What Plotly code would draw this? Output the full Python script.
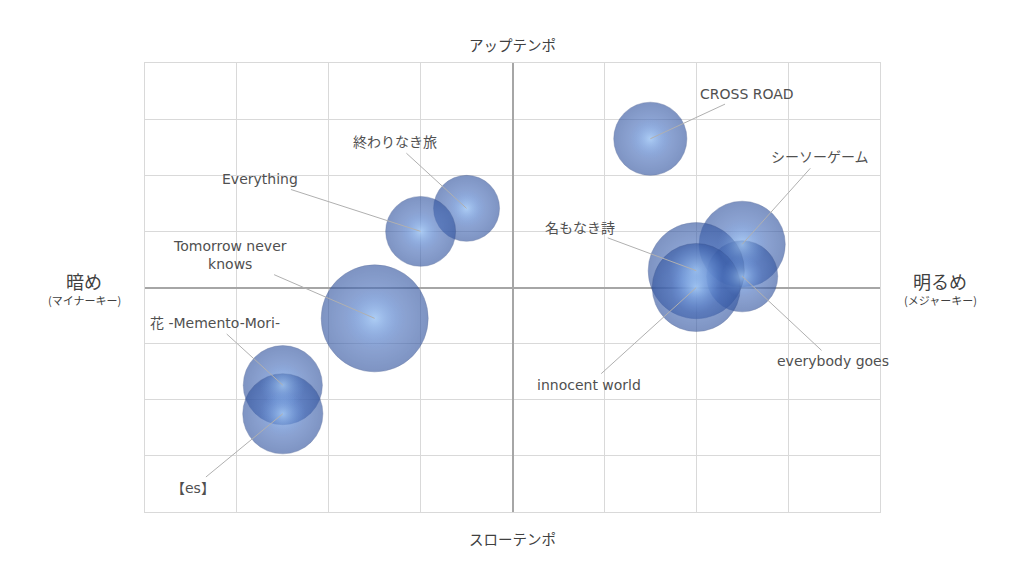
import plotly.graph_objects as go

# song data: x = key (minor -> major), y = tempo (slow -> up), size = bubble value
songs = ["CROSS ROAD", "シーソーゲーム", "everybody goes", "名もなき詩", "innocent world",
         "終わりなき旅", "Everything", "Tomorrow never<br>knows", "花 -Memento-Mori-", "【es】"]
key_x = [1.5, 2.5, 2.5, 2.0, 2.0, -0.5, -1.0, -1.5, -2.5, -2.5]
tempo_y = [2.65, 0.77, 0.2, 0.3, 0.0, 1.41, 1.0, -0.55, -1.74, -2.25]
sizes = [129, 179, 122, 223, 187, 105, 118, 276, 151, 155]

# label offsets (pixels, text centre relative to bubble centre)
label_dx = [97, 78, 91, -116, -107, -72, -161, -145, -68, -90]
label_dy = [-45, -87, 85, -43, 97, -66, -52, -63, -62, 74]

max_r = 53.5
sizeref = max(sizes) / (2 * max_r ** 2)
font_lbl = "DejaVu Sans, Noto Sans CJK JP, sans-serif"
font_jp = "Noto Sans CJK JP, sans-serif"

# page offset (browser body margin) and plot area in screen pixels
off = 8
plot_l, plot_r, plot_t, plot_b = 145, 880, 63, 512


def px_to_paper(px, py):
    return (px - plot_l) / (plot_r - plot_l), (plot_b - py) / (plot_b - plot_t)


fig = go.Figure()

# base spheres
fig.add_trace(go.Scatter(
    x=key_x, y=tempo_y, mode="markers",
    marker=dict(size=sizes, sizemode="area", sizeref=sizeref,
                color="rgba(52,86,160,0.9)",
                gradient=dict(type="radial", color="rgba(98,138,214,0.9)"),
                line=dict(width=0.7, color="rgba(45,70,130,0.6)")),
    hoverinfo="skip", showlegend=False))

# glossy highlight
hl_sizes = [s * 0.33 for s in sizes]
fig.add_trace(go.Scatter(
    x=key_x, y=tempo_y, mode="markers",
    marker=dict(size=hl_sizes, sizemode="area", sizeref=sizeref,
                color="rgba(110,155,225,0)",
                gradient=dict(type="radial", color="rgba(185,222,255,0.85)"),
                line=dict(width=0)),
    hoverinfo="skip", showlegend=False))

for name, x, y, dx, dy in zip(songs, key_x, tempo_y, label_dx, label_dy):
    fig.add_annotation(x=x, y=y, text=name, showarrow=True, arrowhead=0,
                       arrowwidth=1, arrowcolor="#b0b0b0", ax=dx, ay=dy,
                       standoff=0, startstandoff=2,
                       font=dict(family=font_lbl, size=14, color="#505050"))

# quadrant titles
titles = [("アップテンポ", 512, 44), ("スローテンポ", 512, 538)]
for txt, xpix, ypix in titles:
    xp, yp = px_to_paper(xpix, ypix)
    fig.add_annotation(x=xp, y=yp, xref="paper", yref="paper",
                       xanchor="center", yanchor="middle", showarrow=False,
                       text=txt, font=dict(family=font_jp, size=14.5, color="#404040"))

side = [("暗め", "(マイナーキー)", 84), ("明るめ", "(メジャーキー)", 940)]
for big, small, xpix in side:
    xp, yp = px_to_paper(xpix, 281)
    fig.add_annotation(x=xp, y=yp, xref="paper", yref="paper",
                       xanchor="center", yanchor="middle", showarrow=False, text=big,
                       font=dict(family=font_jp, size=18, color="#404040"))
    xp, yp = px_to_paper(xpix, 300)
    fig.add_annotation(x=xp, y=yp, xref="paper", yref="paper",
                       xanchor="center", yanchor="middle", showarrow=False, text=small,
                       font=dict(family=font_jp, size=11, color="#404040"))

axis_style = dict(range=[-4, 4], dtick=1, showticklabels=False, ticks="",
                  showgrid=True, gridcolor="#d9d9d9", gridwidth=1,
                  zeroline=True, zerolinecolor="#a6a6a6", zerolinewidth=2,
                  showline=True, mirror=True, linecolor="#d9d9d9", linewidth=1,
                  fixedrange=True)

fig.update_layout(
    width=1024, height=576,
    margin=dict(l=plot_l - off, r=1024 - plot_r + off, t=plot_t - off, b=576 - plot_b + off),
    paper_bgcolor="white", plot_bgcolor="white",
    xaxis=axis_style, yaxis=axis_style,
    showlegend=False,
)

fig.write_html("out.html")
